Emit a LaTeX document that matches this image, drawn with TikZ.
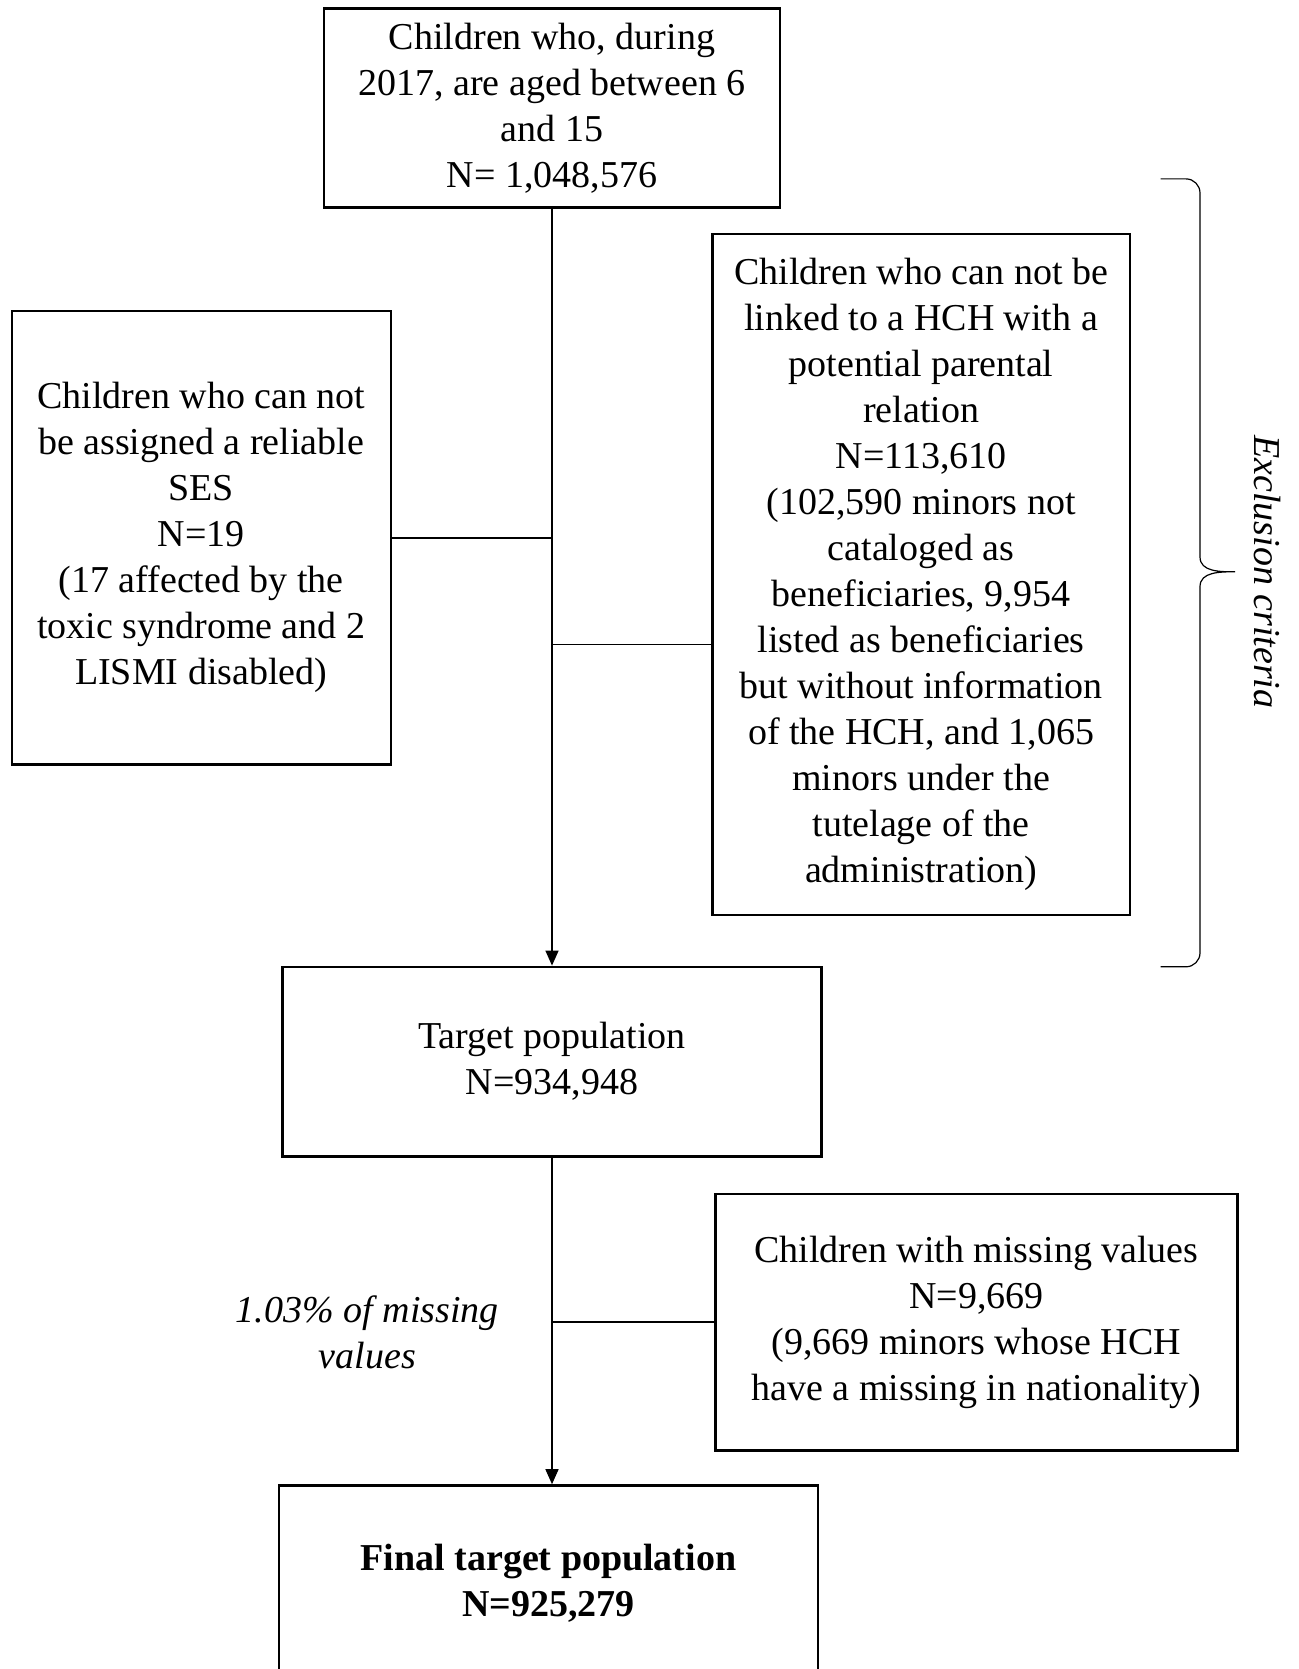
\documentclass[tikz,border=0pt]{standalone}
\usepackage{fontspec}
\setmainfont{Liberation Serif}
\usetikzlibrary{arrows.meta}
\begin{document}
\begin{tikzpicture}[x=0.5pt,y=-0.5pt,font={\fontsize{19}{23}\selectfont},
  box/.style={draw,line width=1.2pt,align=center,inner sep=0pt},
  link/.style={line width=0.7pt},
  arr/.style={link,-{Triangle[length=7.5pt,width=6.5pt]}}]
\useasboundingbox (0,0) rectangle (1299,1669);
\node[box,minimum width=227.8pt,minimum height=99.5pt](start)at(552,108){Children who, during\\2017, are aged between 6\\and 15\\N= 1,048,576};
\node[box,minimum width=189.5pt,minimum height=226.7pt](ses)at(201.2,537.8){Children who can not\\be assigned a reliable\\SES\\N=19\\(17 affected by the\\toxic syndrome and 2\\LISMI disabled)};
\node[box,minimum width=208.7pt,minimum height=340.2pt](hch)at(921.1,574.5){Children who can not be\\linked to a HCH with a\\potential parental\\relation\\N=113,610\\(102,590 minors not\\cataloged as\\beneficiaries, 9,954\\listed as beneficiaries\\but without information\\of the HCH, and 1,065\\minors under the\\tutelage of the\\administration)};
\node[box,minimum width=269.4pt,minimum height=94.8pt](target)at(552,1061.6){Target population\\N=934,948};
\node[box,minimum width=260.9pt,minimum height=128.3pt](miss)at(976.4,1322){Children with missing values\\N=9,669\\(9,669 minors whose HCH\\have a missing in nationality)};
\node[box,minimum width=269.4pt,minimum height=97.6pt,font={\fontsize{19}{23}\selectfont\bfseries}](final)at(548.4,1583){Final target population\\N=925,279};
% labels
\node[font={\fontsize{19}{23}\selectfont\itshape},align=center](pct)at(367.4,1332){1.03\% of missing\\values};
\node[rotate=-90,font={\fontsize{19}{23}\selectfont\itshape}](excl)at(1267,571.8){Exclusion criteria};
% flow
\draw[arr](start)--(target);
\draw[link](ses.east)--(ses.east -| start.south);
\coordinate(jr)at(552,644.2);
\draw[link](jr)--(jr -| hch.west);
\draw[arr](target.south)--(target.south |- final.north);
\draw[link](miss.west)--(miss.west -| target.south);
% brace
\draw[line width=0.6pt](1160.6,178.9)--(1186,178.9)to[out=0,in=90](1200,193)--(1200,557)
  to[out=-90,in=180](1235,571.8)to[out=180,in=90](1200,586.6)--(1200,952.8)
  to[out=-90,in=0](1186,966.8)--(1160.6,966.8);
\end{tikzpicture}
\end{document}
